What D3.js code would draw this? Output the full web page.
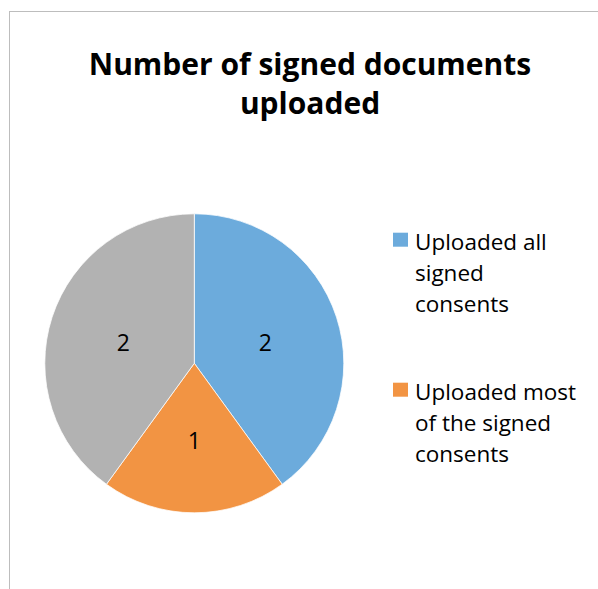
<!DOCTYPE html>
<html>
<head>
<meta charset="utf-8">
<script src="https://cdn.jsdelivr.net/npm/d3@7"></script>
<style>
  html, body { margin: 0; padding: 0; background: #fff; }
  svg { display: block; }
</style>
</head>
<body>
<svg id="chart" width="598" height="589"></svg>
<script>
// Chart data
const categories = [
  "Uploaded all signed consents",
  "Uploaded most of the signed consents",
  "Uploaded some of the signed consents"
];
const values = [2, 1, 2];
const colors = ["#6CABDC", "#F29443", "#B2B2B2"];
const titleLines = ["Number of signed documents", "uploaded"];
// Legend lines as they wrap inside the legend box
const legendLines = [
  ["Uploaded all", "signed", "consents"],
  ["Uploaded most", "of the signed", "consents"]
];

const font = "'Open Sans', Lato, 'Noto Sans', sans-serif";
const svg = d3.select("#chart");

// Chart frame (extends past the right and bottom edges)
svg.append("rect")
  .attr("x", 9.5).attr("y", 11.5)
  .attr("width", 620).attr("height", 620)
  .attr("fill", "#fff")
  .attr("stroke", "#BDBDBD")
  .attr("stroke-width", 1);

// Title
const title = svg.append("text")
  .attr("text-anchor", "middle")
  .attr("font-family", font)
  .attr("font-weight", "bold")
  .attr("font-size", 30)
  .attr("fill", "#000");
titleLines.forEach((line, i) => {
  title.append("tspan").attr("x", 310).attr("y", 75 + i * 39).text(line);
});

// Pie
const cx = 194.3, cy = 363.3, radius = 149.5;
const pie = d3.pie().sort(null).value(d => d)(values);
const arc = d3.arc().innerRadius(0).outerRadius(radius);
const labelArc = d3.arc().innerRadius(radius * 0.5).outerRadius(radius * 0.5);

const g = svg.append("g").attr("transform", `translate(${cx},${cy})`);
g.selectAll("path.slice")
  .data(pie)
  .join("path")
  .attr("class", "slice")
  .attr("d", arc)
  .attr("fill", (d, i) => colors[i])
  .attr("stroke", "#fff")
  .attr("stroke-width", 0.75);

g.selectAll("text.value")
  .data(pie)
  .join("text")
  .attr("class", "value")
  .attr("transform", d => {
    const [x, y] = labelArc.centroid(d);
    return `translate(${x},${y + 3})`;
  })
  .attr("text-anchor", "middle")
  .attr("dy", "0.36em")
  .attr("font-family", font)
  .attr("font-size", 23)
  .attr("fill", "#000")
  .text(d => d.data);

// Legend
const legendTop = [232.7, 382.7];
const legend = svg.append("g");
legendLines.forEach((lines, i) => {
  legend.append("rect")
    .attr("x", 393).attr("y", legendTop[i])
    .attr("width", 15).attr("height", 14)
    .attr("fill", colors[i]);
  const t = legend.append("text")
    .attr("font-family", font)
    .attr("font-size", 22.5)
    .attr("fill", "#000");
  lines.forEach((line, j) => {
    t.append("tspan").attr("x", 415).attr("y", legendTop[i] + 17.5 + j * 31).text(line);
  });
});
</script>
</body>
</html>
